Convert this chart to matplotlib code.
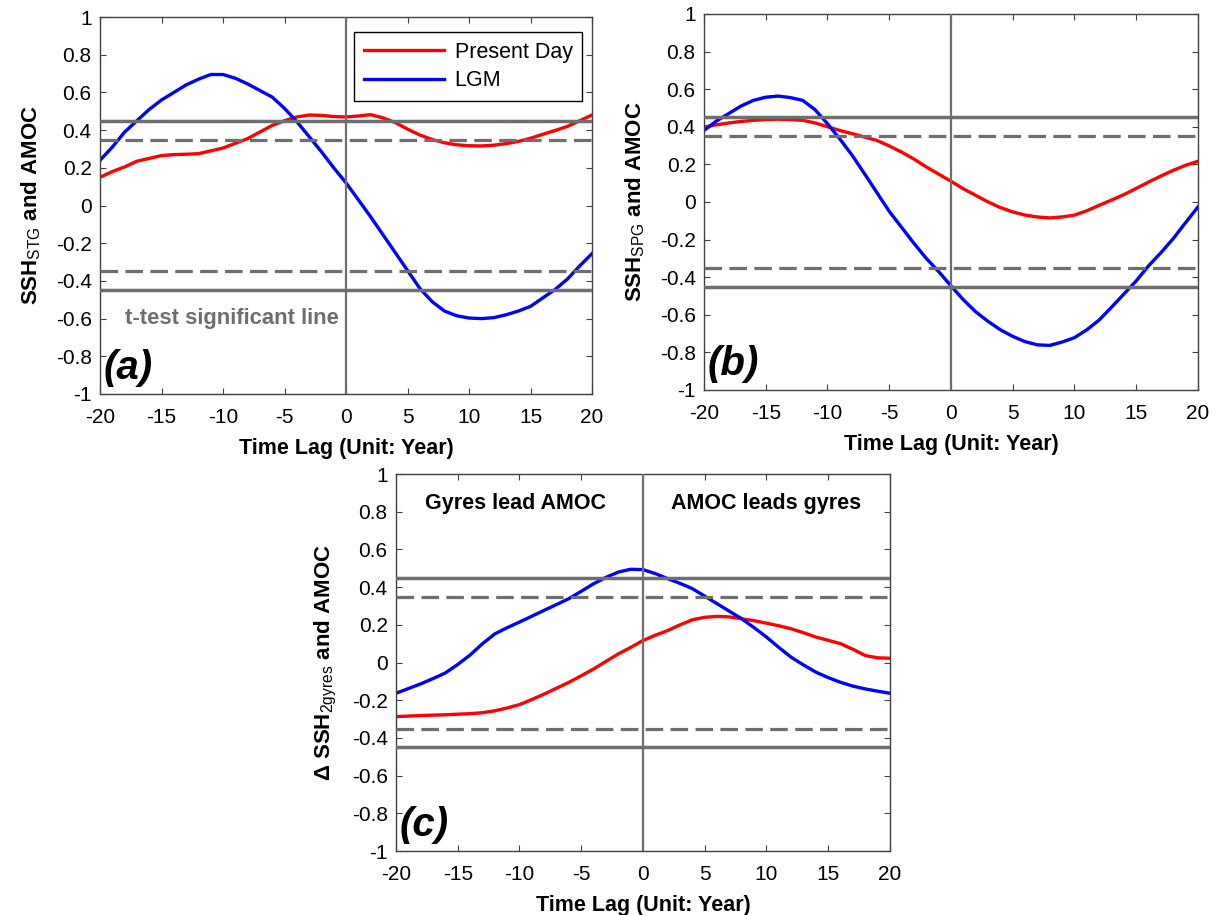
import matplotlib
matplotlib.use("Agg")
import matplotlib.pyplot as plt

plt.rcParams['font.family'] = ['Liberation Sans', 'DejaVu Sans']
plt.rcParams['axes.unicode_minus'] = False
plt.rcParams['mathtext.fontset'] = 'custom'
plt.rcParams['mathtext.rm'] = 'Liberation Sans'
plt.rcParams['mathtext.bf'] = 'Liberation Sans:bold'
plt.rcParams['mathtext.sf'] = 'Liberation Sans'
plt.rcParams['mathtext.it'] = 'Liberation Sans:italic'

# Lag (years) of the lead-lag correlation
lags = list(range(-20, 21))

# (a) subtropical gyre SSH vs AMOC
stg_present = [0.15, 0.18, 0.205, 0.235, 0.25, 0.265, 0.27, 0.272, 0.275, 0.29,
               0.305, 0.33, 0.355, 0.39, 0.425, 0.45, 0.47, 0.48, 0.478, 0.472,
               0.47, 0.475, 0.482, 0.465, 0.44, 0.405, 0.374, 0.35, 0.333, 0.322,
               0.317, 0.316, 0.32, 0.328, 0.34, 0.357, 0.378, 0.398, 0.42, 0.45,
               0.48]
stg_lgm = [0.24, 0.31, 0.39, 0.45, 0.51, 0.56, 0.60, 0.64, 0.67, 0.695,
           0.695, 0.675, 0.645, 0.61, 0.575, 0.515, 0.445, 0.365, 0.285, 0.20,
           0.12, 0.03, -0.06, -0.155, -0.25, -0.345, -0.44, -0.51, -0.56, -0.585,
           -0.597, -0.60, -0.595, -0.58, -0.56, -0.535, -0.49, -0.445, -0.39, -0.32,
           -0.255]

# (b) subpolar gyre SSH vs AMOC
spg_present = [0.398, 0.41, 0.42, 0.428, 0.434, 0.438, 0.44, 0.438, 0.434, 0.42,
               0.40, 0.38, 0.363, 0.345, 0.327, 0.298, 0.265, 0.228, 0.186, 0.148,
               0.11, 0.07, 0.035, 0.0, -0.03, -0.053, -0.07, -0.08, -0.085, -0.08,
               -0.07, -0.047, -0.018, 0.01, 0.039, 0.072, 0.106, 0.138, 0.168, 0.195,
               0.216]
spg_lgm = [0.38, 0.43, 0.47, 0.51, 0.54, 0.557, 0.563, 0.555, 0.54, 0.49,
           0.416, 0.335, 0.248, 0.15, 0.05, -0.05, -0.135, -0.22, -0.30, -0.37,
           -0.446, -0.52, -0.584, -0.635, -0.68, -0.715, -0.743, -0.76, -0.763, -0.745,
           -0.722, -0.68, -0.628, -0.56, -0.49, -0.42, -0.34, -0.27, -0.195, -0.11,
           -0.027]

# (c) inter-gyre SSH difference vs AMOC
dgyre_present = [-0.287, -0.284, -0.281, -0.279, -0.277, -0.274, -0.271, -0.266, -0.256, -0.241,
                 -0.223, -0.196, -0.167, -0.136, -0.105, -0.07, -0.034, 0.006, 0.046, 0.08,
                 0.117, 0.145, 0.17, 0.2, 0.227, 0.24, 0.245, 0.242, 0.232, 0.222,
                 0.209, 0.195, 0.179, 0.158, 0.135, 0.118, 0.1, 0.07, 0.037, 0.025,
                 0.023]
dgyre_lgm = [-0.163, -0.138, -0.113, -0.085, -0.055, -0.01, 0.04, 0.1, 0.152, 0.185,
             0.215, 0.246, 0.277, 0.308, 0.339, 0.378, 0.418, 0.452, 0.48, 0.495,
             0.493, 0.472, 0.445, 0.42, 0.392, 0.352, 0.312, 0.272, 0.232, 0.185,
             0.135, 0.08, 0.028, -0.013, -0.051, -0.08, -0.105, -0.125, -0.14, -0.152,
             -0.163]

# t-test significance levels
sig_solid = [0.45, -0.45]
sig_dashed = [0.35, -0.35]

xticks = [-20, -15, -10, -5, 0, 5, 10, 15, 20]
xtick_labels = ['-20', '-15', '-10', '-5', '0', '5', '10', '15', '20']
yticks = [-1, -0.8, -0.6, -0.4, -0.2, 0, 0.2, 0.4, 0.6, 0.8, 1]
ytick_labels = ['-1', '-0.8', '-0.6', '-0.4', '-0.2', '0', '0.2', '0.4', '0.6', '0.8', '1']

GRAY = '#6e6e6e'
FRAME = '#404040'

fig = plt.figure(figsize=(12.23, 9.15), dpi=100)
ax_a = fig.add_axes([0.0818, 0.5694, 0.4023, 0.4120])
ax_b = fig.add_axes([0.5756, 0.5738, 0.4039, 0.4110])
ax_c = fig.add_axes([0.3238, 0.0699, 0.4039, 0.4120])


def draw_panel(ax, present, lgm, ylabel, tag):
    ax.plot(lags, present, color='#ff0000', lw=2.4, label='Present Day', zorder=2)
    ax.plot(lags, lgm, color='#0000ff', lw=2.4, label='LGM', zorder=2)
    for lvl in sig_solid:
        ax.axhline(lvl, color=GRAY, lw=2.5, zorder=3)
    for lvl in sig_dashed:
        ax.axhline(lvl, color=GRAY, lw=2.3, ls=(0, (5.5, 2.3)), zorder=3)
    ax.axvline(0, color=GRAY, lw=1.6, zorder=3)

    ax.set_xlim(-20, 20)
    ax.set_ylim(-1, 1)
    ax.set_xticks(xticks)
    ax.set_xticklabels(xtick_labels)
    ax.set_yticks(yticks)
    ax.set_yticklabels(ytick_labels)
    ax.tick_params(direction='in', top=True, right=True, length=4, width=0.8,
                   color=FRAME, labelcolor='black', labelsize=15)
    ax.tick_params(axis='y', pad=6)
    ax.tick_params(axis='x', pad=10)
    for sp in ax.spines.values():
        sp.set_color(FRAME)
        sp.set_linewidth(1.0)

    ax.set_xlabel('Time Lag (Unit: Year)', fontsize=15.5, fontweight='bold', labelpad=8)
    ax.set_ylabel(ylabel, fontsize=16, fontweight='bold', labelpad=9)
    ax.text(-19.7, -0.86, tag, fontsize=29, fontweight='bold', fontstyle='italic',
            ha='left', va='center')


draw_panel(ax_a, stg_present, stg_lgm,
           r'$\mathbf{SSH}_{\mathsf{STG}}$ and AMOC', '(a)')
draw_panel(ax_b, spg_present, spg_lgm,
           r'$\mathbf{SSH}_{\mathsf{SPG}}$ and AMOC', '(b)')
draw_panel(ax_c, dgyre_present, dgyre_lgm,
           'Δ ' + r'$\mathbf{SSH}_{\mathsf{2gyres}}$ and AMOC', '(c)')

ax_a.text(-18.0, -0.60, 't-test significant line', color=GRAY, fontsize=15.8,
          fontweight='bold', ha='left', va='center')

leg = ax_a.legend(loc='upper right', bbox_to_anchor=(0.98, 0.96), borderaxespad=0,
                  fontsize=15.5, handlelength=3.7, fancybox=False, framealpha=1,
                  edgecolor='black', borderpad=0.45, labelspacing=0.35, handletextpad=0.5)
leg.get_frame().set_linewidth(1.0)

ax_c.text(-10.3, 0.845, 'Gyres lead AMOC', fontsize=15.5, fontweight='bold',
          ha='center', va='center')
ax_c.text(10.0, 0.845, 'AMOC leads gyres', fontsize=15.5, fontweight='bold',
          ha='center', va='center')

fig.savefig('out.png', dpi=100)
